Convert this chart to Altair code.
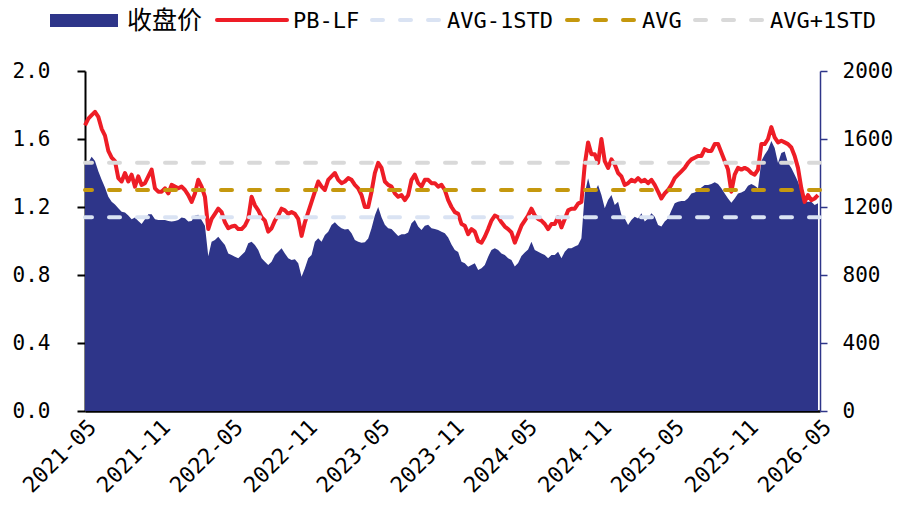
import altair as alt
import pandas as pd

# PB-LF valuation multiple (left axis)
pb_values = [
    1.68, 1.72, 1.74, 1.76, 1.73, 1.66, 1.62, 1.53, 1.49, 1.47,
    1.37, 1.35, 1.40, 1.35, 1.39, 1.32, 1.38, 1.33, 1.34, 1.38,
    1.42, 1.31, 1.29, 1.29, 1.31, 1.28, 1.33, 1.32, 1.31, 1.32,
    1.30, 1.27, 1.23, 1.28, 1.36, 1.32, 1.26, 1.07,
    1.13, 1.16, 1.19, 1.17, 1.11, 1.075, 1.085, 1.09, 1.07, 1.07,
    1.09, 1.13, 1.26, 1.21, 1.18, 1.14, 1.12, 1.055, 1.075, 1.12,
    1.15, 1.19, 1.18, 1.16, 1.17, 1.16, 1.13, 1.03, 1.11, 1.17,
    1.23, 1.29, 1.35, 1.32, 1.30, 1.36, 1.38,
    1.40, 1.36, 1.34, 1.35, 1.37, 1.36, 1.33, 1.31, 1.27, 1.20,
    1.20, 1.29, 1.40, 1.46, 1.43, 1.35, 1.33, 1.32, 1.28, 1.26,
    1.27, 1.24, 1.27, 1.36, 1.39, 1.34, 1.32, 1.36, 1.36, 1.34,
    1.34, 1.32, 1.33, 1.30, 1.24, 1.20, 1.17, 1.16,
    1.10, 1.09, 1.04, 1.07, 1.055, 1.00, 0.99, 1.025, 1.07, 1.12,
    1.15, 1.14, 1.11, 1.085, 1.07, 1.05, 0.99, 1.04, 1.09, 1.12,
    1.15, 1.19, 1.15, 1.13, 1.12, 1.10, 1.07, 1.10, 1.10, 1.14,
    1.08, 1.13, 1.18, 1.19, 1.19, 1.22, 1.23,
    1.45, 1.58, 1.51, 1.51, 1.46, 1.60, 1.47, 1.43, 1.48, 1.45,
    1.40, 1.38, 1.33, 1.34, 1.36, 1.35, 1.37, 1.35, 1.36, 1.34,
    1.36, 1.33, 1.29, 1.25, 1.28, 1.30, 1.33, 1.37, 1.39, 1.41,
    1.43, 1.46, 1.48, 1.49, 1.50,
    1.50, 1.54, 1.53, 1.53, 1.57, 1.57, 1.52, 1.47, 1.42, 1.29,
    1.39, 1.43, 1.42, 1.43, 1.42, 1.40, 1.39, 1.42, 1.57, 1.57,
    1.60, 1.67, 1.61, 1.58, 1.59, 1.58, 1.57, 1.55, 1.50, 1.43,
    1.31, 1.23, 1.27, 1.24, 1.25, 1.27,
]

# closing price (right axis)
close_values = [
    1457, 1460, 1495, 1470, 1410, 1360, 1315, 1260, 1231, 1215,
    1192, 1172, 1168, 1150, 1128, 1138, 1118, 1100, 1128, 1158,
    1158, 1128, 1124, 1124, 1124, 1118, 1114, 1118, 1124, 1138,
    1134, 1114, 1118, 1150, 1155, 1124, 1090, 910,
    996, 1006, 1025, 1000, 976, 927, 918, 908, 898, 918,
    937, 987, 996, 976, 947, 898, 878, 859, 878, 918,
    937, 957, 927, 898, 888, 893, 869, 790, 839, 898,
    918, 996, 1016, 996, 1035, 1055, 1094,
    1110, 1090, 1075, 1068, 1070, 1045, 1006, 996, 990, 992,
    1015, 1075, 1150, 1200, 1140, 1095, 1075, 1070, 1050, 1030,
    1040, 1040, 1050, 1104, 1124, 1085, 1065, 1090, 1095, 1075,
    1070, 1065, 1055, 1045, 1020, 980, 947, 935,
    878, 869, 849, 859, 869, 829, 839, 859, 908, 947,
    957, 947, 927, 918, 898, 888, 850, 870, 912, 932,
    950, 996, 947, 937, 927, 918, 898, 918, 918, 937,
    898, 937, 957, 957, 967, 976, 1016,
    1280, 1369, 1290, 1290, 1329, 1271, 1192, 1241, 1271, 1212,
    1231, 1153, 1133, 1094, 1124, 1143, 1133, 1163, 1114, 1133,
    1163, 1143, 1094, 1085, 1114, 1133, 1180, 1222, 1231, 1236,
    1236, 1251, 1280, 1285, 1295,
    1315, 1330, 1330, 1335, 1345, 1335, 1310, 1280, 1250, 1225,
    1250, 1280, 1285, 1295, 1325, 1335, 1325, 1310, 1470, 1508,
    1537, 1588, 1547, 1459, 1518, 1527, 1459, 1429, 1390, 1349,
    1290, 1231, 1231, 1231, 1212, 1222,
]

# evenly spaced trading dates across the period
dates = pd.date_range("2021-05-01", "2026-04-26", periods=len(pb_values))

# mean and +/- one standard deviation of PB-LF
ref_names = ["AVG-1STD", "AVG", "AVG+1STD"]
ref_values = [1.14, 1.30, 1.46]
ref_colors = ["#DAE3F3", "#C5980E", "#D9D9D9"]

tick_months = [(2021, 5), (2021, 11), (2022, 5), (2022, 11), (2023, 5), (2023, 11),
               (2024, 5), (2024, 11), (2025, 5), (2025, 11), (2026, 5)]
pb_ticks = [0, 0.4, 0.8, 1.2, 1.6, 2.0]
close_ticks = [0, 400, 800, 1200, 1600, 2000]

NAVY = "#2E3589"
RED = "#EE1D26"
MONO = "DejaVu Sans Mono"
CJK = "Noto Sans CJK SC"

df = pd.DataFrame({"date": dates, "pb": pb_values, "close": close_values})
ref_df = pd.DataFrame({"name": ref_names, "value": ref_values})
one_row = pd.DataFrame({"k": [0]})

x_enc = alt.X(
    "date:T",
    title=None,
    scale=alt.Scale(
        domain=[alt.DateTime(year=2021, month=5, date=1), alt.DateTime(year=2026, month=5, date=1)],
        nice=False,
    ),
    axis=alt.Axis(
        values=[alt.DateTime(year=y, month=m, date=1) for y, m in tick_months],
        format="%Y-%m",
        labelAngle=-45,
        labelAlign="right",
        labelBaseline="top",
        labelPadding=5,
        labelFont=MONO,
        labelFontSize=22,
        labelColor="black",
        labelOverlap=False,
        ticks=False,
        grid=False,
        domainColor="black",
        domainWidth=2.5,
    ),
)

pb_axis = alt.Axis(
    orient="left",
    values=pb_ticks,
    format=".1f",
    labelFont=MONO,
    labelFontSize=21,
    labelColor="black",
    labelPadding=27,
    tickColor="black",
    tickSize=8,
    tickWidth=2,
    domainColor="black",
    domainWidth=2,
    grid=False,
    title=None,
)
pb_scale = alt.Scale(domain=[0, 2.0], nice=False)

close_axis = alt.Axis(
    orient="right",
    values=close_ticks,
    format="d",
    labelFont=MONO,
    labelFontSize=21,
    labelColor="black",
    labelPadding=15,
    tickColor=NAVY,
    tickSize=7,
    tickWidth=1.5,
    domainColor=NAVY,
    domainWidth=1.5,
    grid=False,
    title=None,
)

area = alt.Chart(df).mark_area(color=NAVY, opacity=1).encode(
    x=x_enc,
    y=alt.Y("close:Q", scale=alt.Scale(domain=[0, 2000], nice=False), axis=close_axis, title=None),
)

pb_line = alt.Chart(df).mark_line(color=RED, strokeWidth=4, strokeJoin="round").encode(
    x=alt.X("date:T"),
    y=alt.Y("pb:Q", scale=pb_scale, axis=pb_axis, title=None),
)

ref_rules = alt.Chart(ref_df).mark_rule(strokeWidth=4, strokeDash=[11, 17], strokeCap="round").encode(
    y=alt.Y("value:Q", scale=pb_scale, axis=pb_axis, title=None),
    color=alt.Color("name:N", scale=alt.Scale(domain=ref_names, range=ref_colors), legend=None),
)

# legend row above the plot
leg_y = -51
legend_layers = [
    alt.Chart(one_row).mark_rect(color=NAVY).encode(
        x=alt.value(-35), x2=alt.value(33), y=alt.value(-57), y2=alt.value(-44)),
    alt.Chart(one_row).mark_text(text="收盘价", font=CJK, fontSize=25, align="left", baseline="middle", color="black").encode(
        x=alt.value(42), y=alt.value(leg_y + 1)),
    alt.Chart(one_row).mark_rule(color=RED, strokeWidth=4, strokeCap="round").encode(
        x=alt.value(132), x2=alt.value(202), y=alt.value(leg_y)),
    alt.Chart(one_row).mark_text(text="PB-LF", font=MONO, fontSize=22, align="left", baseline="middle", color="black").encode(
        x=alt.value(208), y=alt.value(leg_y + 1)),
    alt.Chart(one_row).mark_rule(color=ref_colors[0], strokeWidth=4, strokeDash=[11, 17], strokeCap="round").encode(
        x=alt.value(287), x2=alt.value(357), y=alt.value(leg_y)),
    alt.Chart(one_row).mark_text(text="AVG-1STD", font=MONO, fontSize=22, align="left", baseline="middle", color="black").encode(
        x=alt.value(362), y=alt.value(leg_y + 1)),
    alt.Chart(one_row).mark_rule(color=ref_colors[1], strokeWidth=4, strokeDash=[11, 17], strokeCap="round").encode(
        x=alt.value(482), x2=alt.value(550), y=alt.value(leg_y)),
    alt.Chart(one_row).mark_text(text="AVG", font=MONO, fontSize=22, align="left", baseline="middle", color="black").encode(
        x=alt.value(557), y=alt.value(leg_y + 1)),
    alt.Chart(one_row).mark_rule(color=ref_colors[2], strokeWidth=4, strokeDash=[11, 17], strokeCap="round").encode(
        x=alt.value(610), x2=alt.value(678), y=alt.value(leg_y)),
    alt.Chart(one_row).mark_text(text="AVG+1STD", font=MONO, fontSize=22, align="left", baseline="middle", color="black").encode(
        x=alt.value(685), y=alt.value(leg_y + 1)),
]

chart = (
    alt.layer(area, alt.layer(pb_line, ref_rules), *legend_layers)
    .resolve_scale(y="independent")
    .properties(
        width=735,
        height=340,
        autosize=alt.AutoSizeParams(type="none"),
        padding={"left": 85, "top": 71, "right": 77, "bottom": 99},
    )
    .configure_view(stroke=None)
)

chart.save("out.html", embed_options={"renderer": "svg", "actions": False})
